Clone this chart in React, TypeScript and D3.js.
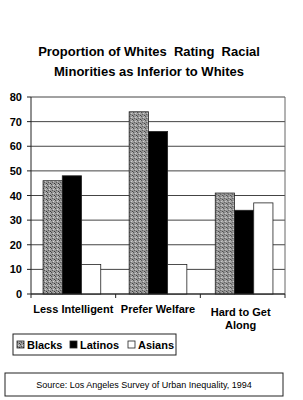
import React from 'react';
import * as d3 from 'd3';

const categories = ['Less Intelligent', 'Prefer Welfare', 'Hard to Get Along'];
const seriesNames = ['Blacks', 'Latinos', 'Asians'];
const blacks = [46, 74, 41];
const latinos = [48, 66, 34];
const asians = [12, 12, 37];
const yTicks = [0, 10, 20, 30, 40, 50, 60, 70, 80];

const W = 303;
const H = 400;
const margin = {left: 31, right: 18, top: 97, bottom: 106};

function App() {
  const x = d3.scaleBand()
    .domain(categories)
    .range([margin.left, W - margin.right])
    .paddingInner(0.33)
    .paddingOuter(0.14);
  const y = d3.scaleLinear()
    .domain([0, 80])
    .range([H - margin.bottom, margin.top]);
  const inner = d3.scaleBand()
    .domain(seriesNames)
    .range([0, x.bandwidth()]);

  const values = [blacks, latinos, asians];
  const fills = ['url(#stipple)', '#000', '#fff'];
  const font = 'Liberation Sans, Arial, sans-serif';
  const step = (W - margin.right - margin.left) / categories.length;

  return (
    <svg width={W} height={H} style={{position: 'absolute', left: 0, top: 0, background: '#fff'}}>
      <defs>
        <pattern id="stipple" width="4" height="4" patternUnits="userSpaceOnUse">
          <rect width="4" height="4" fill="#9a9a9a"/>
          <rect x="0" y="0" width="1" height="1" fill="#444"/>
          <rect x="2" y="1" width="1" height="1" fill="#d8d8d8"/>
          <rect x="1" y="2" width="1" height="1" fill="#555"/>
          <rect x="3" y="3" width="1" height="1" fill="#333"/>
          <rect x="3" y="0" width="1" height="1" fill="#bbb"/>
        </pattern>
      </defs>

      <text x={149} y={56} textAnchor="middle" fontFamily={font} fontWeight="bold" fontSize={13} xmlSpace="preserve" style={{whiteSpace: 'pre'}}>
        {'Proportion of Whites  Rating  Racial'}
      </text>
      <text x={149} y={76} textAnchor="middle" fontFamily={font} fontWeight="bold" fontSize={13}>
        Minorities as Inferior to Whites
      </text>

      {yTicks.map(t => (
        <g key={t}>
          <line x1={margin.left} x2={W - margin.right} y1={y(t)} y2={y(t)} stroke="#444" strokeWidth={1}/>
          <line x1={margin.left - 4} x2={margin.left} y1={y(t)} y2={y(t)} stroke="#222"/>
          <text x={22} y={y(t) + 4} textAnchor="end" fontFamily={font} fontWeight="bold" fontSize={11}>{t}</text>
        </g>
      ))}
      <line x1={W - margin.right} x2={W - margin.right} y1={y(80)} y2={y(0)} stroke="#666"/>

      {categories.map((c, i) => (
        <g key={c} transform={`translate(${x(c)},0)`}>
          {seriesNames.map((s, j) => (
            <rect key={s}
              x={inner(s)}
              y={y(values[j][i])}
              width={inner.bandwidth()}
              height={y(0) - y(values[j][i])}
              fill={fills[j]}
              stroke="#222"
              strokeWidth={0.8}/>
          ))}
        </g>
      ))}

      <line x1={margin.left} x2={margin.left} y1={y(80)} y2={y(0)} stroke="#222"/>
      <line x1={margin.left} x2={W - margin.right} y1={y(0)} y2={y(0)} stroke="#222"/>
      {d3.range(categories.length + 1).map(i => (
        <line key={i} x1={margin.left + step * i} x2={margin.left + step * i} y1={y(0)} y2={y(0) + 4} stroke="#222"/>
      ))}

      {categories.map((c, i) => {
        const cx = margin.left + step * (i + 0.5);
        if (c === 'Hard to Get Along') {
          return (
            <text key={c} x={cx - 2} y={316} textAnchor="middle" fontFamily={font} fontWeight="bold" fontSize={11}>
              <tspan x={cx - 2}>Hard to Get</tspan>
              <tspan x={cx - 2} dy={13}>Along</tspan>
            </text>
          );
        }
        return (
          <text key={c} x={cx} y={313} textAnchor="middle" fontFamily={font} fontWeight="bold" fontSize={11}>{c}</text>
        );
      })}

      <rect x={13} y={334} width={163} height={21} fill="#fff" stroke="#222"/>
      {seriesNames.map((s, j) => {
        const lx = [17, 70, 128][j];
        return (
          <g key={s}>
            <rect x={lx} y={341} width={7} height={7} fill={fills[j]} stroke="#222" strokeWidth={0.8}/>
            <text x={lx + 10} y={349} fontFamily={font} fontWeight="bold" fontSize={11}>{s}</text>
          </g>
        );
      })}

      <rect x={5} y={373} width={278} height={23} fill="#fff" stroke="#222"/>
      <text x={144} y={388} textAnchor="middle" fontFamily={font} fontSize={9}>
        Source: Los Angeles Survey of Urban Inequality, 1994
      </text>
    </svg>
  );
}

export default App;
